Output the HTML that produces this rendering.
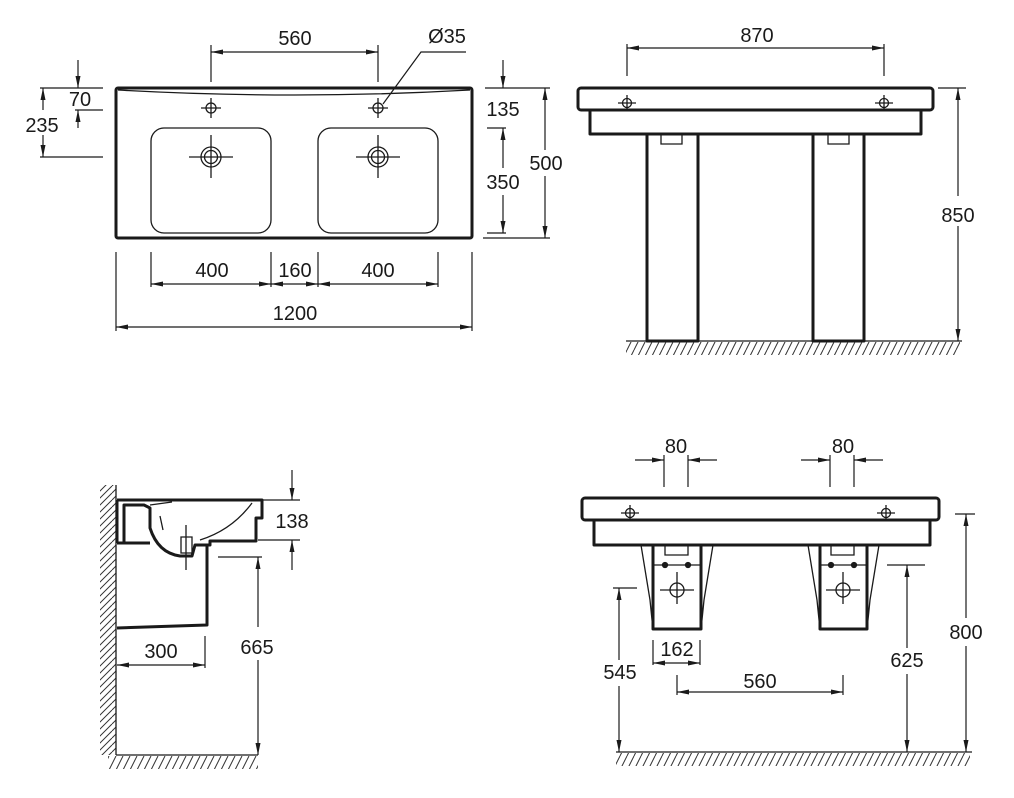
<!DOCTYPE html>
<html><head><meta charset="utf-8"><style>
html,body{margin:0;padding:0;background:#fff;}
svg{display:block;}
text{font-family:"Liberation Sans",Arial,sans-serif;font-size:20px;fill:#1a1a1a;text-anchor:middle;}
.o{fill:none;stroke:#1a1a1a;stroke-width:3;stroke-linejoin:round;}
.t{fill:none;stroke:#1a1a1a;stroke-width:1.3;}
.d{fill:none;stroke:#1a1a1a;stroke-width:1.2;}
.a{fill:none;stroke:#1a1a1a;stroke-width:1.2;marker-end:url(#ah);}
.aa{fill:none;stroke:#1a1a1a;stroke-width:1.2;marker-end:url(#ah);marker-start:url(#ahs);}
</style></head><body>
<svg width="1014" height="798" viewBox="0 0 1014 798" xmlns="http://www.w3.org/2000/svg">
<defs>
<marker id="ah" viewBox="0 0 12 6" refX="12" refY="3" markerWidth="12" markerHeight="6" markerUnits="userSpaceOnUse" orient="auto"><path d="M0,0.5 L12,3 L0,5.5 z" fill="#1a1a1a"/></marker>
<marker id="ahs" viewBox="0 0 12 6" refX="0" refY="3" markerWidth="12" markerHeight="6" markerUnits="userSpaceOnUse" orient="auto"><path d="M12,0.5 L0,3 L12,5.5 z" fill="#1a1a1a"/></marker>
<pattern id="hat" width="7" height="14" patternUnits="userSpaceOnUse"><path d="M-3,14 L4,0 M4,14 L11,0" stroke="#333" stroke-width="1"/></pattern>
<pattern id="hatv" width="14" height="7" patternUnits="userSpaceOnUse"><path d="M0,10 L14,-4 M0,3 L14,-11 M0,17 L14,3" stroke="#333" stroke-width="1"/></pattern>
</defs>

<!-- ===== TOP LEFT: plan ===== -->
<rect x="116" y="88" width="356" height="150" rx="2" class="o"/>
<path d="M118,90 Q295,100 470,90" class="t"/>
<rect x="151" y="128" width="120" height="105" rx="13" class="t"/>
<rect x="318" y="128" width="120" height="105" rx="13" class="t"/>
<g class="t">
<circle cx="211" cy="108" r="5"/><path d="M201,108h20M211,98v20"/>
<circle cx="378" cy="108" r="5"/><path d="M368,108h20M378,98v20"/>
<circle cx="211" cy="157" r="10"/><circle cx="211" cy="157" r="6.5"/><path d="M189,157h44M211,135v43"/>
<circle cx="378" cy="157" r="10"/><circle cx="378" cy="157" r="6.5"/><path d="M356,157h44M378,135v43"/>
</g>
<path d="M211,45V82M378,45V82" class="d"/>
<path d="M211,52H378" class="aa"/>
<text x="295" y="45">560</text>
<path d="M466,52H421L383,104" class="d"/>
<text x="447" y="43">Ø35</text>
<path d="M40,88H103M75,110H103M40,157H103" class="d"/>
<path d="M78,60V88" class="a"/><path d="M78,128V110" class="a"/>
<text x="80" y="106">70</text>
<path d="M43,110V88" class="a"/><path d="M43,135V157" class="a"/>
<text x="42" y="132">235</text>
<path d="M485,88H550M487,128H506M487,233H506M483,238H550" class="d"/>
<path d="M503,60V88" class="a"/>
<text x="503" y="116">135</text>
<path d="M503,168V128" class="a"/><path d="M503,195V233" class="a"/>
<text x="503" y="189">350</text>
<path d="M545,150V88" class="a"/><path d="M545,176V238" class="a"/>
<text x="546" y="170">500</text>
<path d="M151,252V287M271,252V287M318,252V287M438,252V287M116,252V331M472,252V331" class="d"/>
<path d="M151,284H271" class="aa"/><path d="M271,284H318" class="aa"/><path d="M318,284H438" class="aa"/>
<text x="212" y="277">400</text><text x="295" y="277">160</text><text x="378" y="277">400</text>
<path d="M116,327H472" class="aa"/>
<text x="295" y="320">1200</text>

<!-- ===== TOP RIGHT: front ===== -->
<rect x="578" y="88" width="355" height="22" rx="3" class="o"/>
<path d="M590,110V134H921V110" class="o"/>
<path d="M647,135V341H698V135M813,135V341H864V135" class="o"/>
<path d="M661,135V144H682V135M828,135V144H849V135" class="t"/>
<g class="t">
<circle cx="627" cy="103" r="4.5"/><path d="M618,103h18M627,95v15"/>
<circle cx="884" cy="103" r="4.5"/><path d="M875,103h18M884,95v15"/>
</g>
<path d="M627,44V76M884,44V76" class="d"/>
<path d="M627,48H884" class="aa"/>
<text x="757" y="42">870</text>
<path d="M938,88H966" class="d"/>
<path d="M958,196V88" class="a"/><path d="M958,226V341" class="a"/>
<text x="958" y="222">850</text>
<rect x="626" y="342" width="334" height="13" fill="url(#hat)"/>
<path d="M626,341H962" class="t"/>

<!-- ===== BOTTOM LEFT: side ===== -->
<rect x="100" y="485" width="16" height="270" fill="url(#hatv)"/>
<path d="M116,485V755" class="t"/>
<rect x="108" y="756" width="150" height="13" fill="url(#hat)"/>
<path d="M116,755H258" class="t"/>
<path d="M117,500H262V518H256V541H210V545H207V625L117,628" class="o"/>
<path d="M117,543H150M117,500V543 M124,543V505H144L150,508V528Q158,553 180,556H192L195,545H207" class="o"/>
<path d="M150,505L172,502M252,503Q232,530 200,540M160,516L163,530" class="t"/>
<path d="M181,537H192V553H181z" class="t"/>
<path d="M186,525V570" class="t"/>
<path d="M262,500H300M258,540H300" class="d"/>
<path d="M292,470V500" class="a"/><path d="M292,570V540" class="a"/>
<text x="292" y="528">138</text>
<path d="M218,557H262" class="d"/>
<path d="M258,627V557" class="a"/><path d="M258,660V755" class="a"/>
<text x="257" y="654">665</text>
<path d="M205,636V668" class="d"/>
<path d="M117,665H205" class="aa"/>
<text x="161" y="658">300</text>

<!-- ===== BOTTOM RIGHT: front installed ===== -->
<rect x="582" y="498" width="357" height="22" rx="3" class="o"/>
<path d="M594,520V545H930V520" class="o"/>
<path d="M653,545V629H701V545M820,545V629H867V545" class="o"/>
<path d="M641,545Q646,575 650,600Q652,620 653,629M713,545Q708,575 704,600Q702,620 701,629" class="t"/>
<path d="M808,545Q813,575 817,600Q819,620 820,629M879,545Q874,575 870,600Q868,620 867,629" class="t"/>
<g class="t">
<path d="M665,545V555H688V545M831,545V555H854V545"/>
<path d="M653,565H701M820,565H867"/>
<circle cx="665" cy="565" r="2.5" fill="#1a1a1a"/><circle cx="688" cy="565" r="2.5" fill="#1a1a1a"/>
<circle cx="831" cy="565" r="2.5" fill="#1a1a1a"/><circle cx="854" cy="565" r="2.5" fill="#1a1a1a"/>
<circle cx="677" cy="590" r="7"/><path d="M660,590h34M677,572v32"/>
<circle cx="843" cy="590" r="7"/><path d="M826,590h34M843,572v32"/>
<circle cx="630" cy="513" r="4.5"/><path d="M621,513h18M630,505v15"/>
<circle cx="886" cy="513" r="4.5"/><path d="M877,513h18M886,505v15"/>
</g>
<path d="M664,455V487M688,455V487M830,455V487M854,455V487" class="d"/>
<path d="M635,460H664" class="a"/><path d="M717,460H688" class="a"/>
<path d="M801,460H830" class="a"/><path d="M883,460H854" class="a"/>
<text x="676" y="453">80</text><text x="843" y="453">80</text>
<path d="M653,640V665M700,640V665" class="d"/>
<path d="M653,663H700" class="aa"/>
<text x="677" y="656">162</text>
<path d="M677,675V695M843,675V695" class="d"/>
<path d="M677,692H843" class="aa"/>
<text x="760" y="688">560</text>
<path d="M613,588H637" class="d"/>
<path d="M619,660V588" class="a"/><path d="M619,686V752" class="a"/>
<text x="620" y="679">545</text>
<path d="M887,565H925" class="d"/>
<path d="M907,648V565" class="a"/><path d="M907,674V752" class="a"/>
<text x="907" y="667">625</text>
<path d="M955,514H975" class="d"/>
<path d="M966,618V514" class="a"/><path d="M966,646V752" class="a"/>
<text x="966" y="639">800</text>
<rect x="616" y="753" width="354" height="13" fill="url(#hat)"/>
<path d="M616,752H972" class="t"/>
</svg>
</body></html>
